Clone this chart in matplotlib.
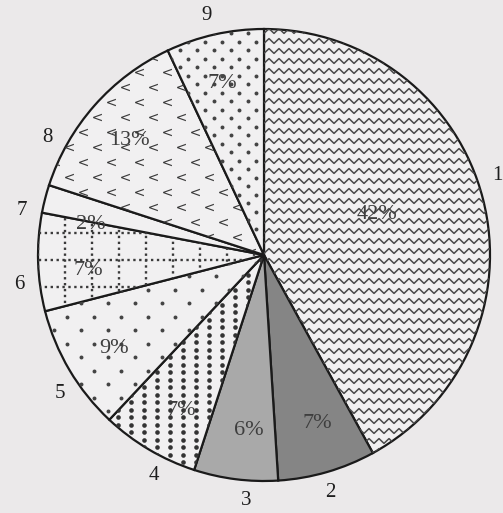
import numpy as np
import matplotlib
matplotlib.use("Agg")
import matplotlib.pyplot as plt
from matplotlib.collections import LineCollection

# --- data ---
labels = ["1", "2", "3", "4", "5", "6", "7", "8", "9"]
shares = [42, 7, 6, 7, 9, 7, 2, 13, 7]
pct_text = ["42%", "7%", "6%", "7%", "9%", "7%", "2%", "13%", "7%"]

BG = "#ebe9ea"
LIGHT = "#f1f0f1"
face = [LIGHT, "#858585", "#a9a9a9", LIGHT, LIGHT, LIGHT, LIGHT, LIGHT, LIGHT]

plt.rcParams["font.family"] = ["Liberation Serif", "DejaVu Serif"]

fig = plt.figure(figsize=(5.03, 5.13), dpi=100, facecolor=BG)
ax = fig.add_axes([0, 0, 1, 1])
ax.set_facecolor(BG)
R = 226.0  # radius in px
cx, cy = 264.0, 255.0

wedges, _ = ax.pie(shares, colors=face, startangle=90, counterclock=False,
                   radius=1.0, center=(0, 0), frame=True,
                   wedgeprops=dict(edgecolor="#1a1a1a", linewidth=1.6))
ax.set_xlim(-cx / R, (503 - cx) / R)
ax.set_ylim(-(513 - cy) / R, cy / R)
ax.axis("off")

px = 1.0 / R
INK = "#444444"


def lattice(step_x, step_y, stagger=True):
    pts = []
    ys = np.arange(-1.05, 1.05, step_y)
    for i, y in enumerate(ys):
        off = step_x / 2 if (stagger and i % 2) else 0.0
        for x in np.arange(-1.05 + off, 1.05, step_x):
            pts.append((x, y))
    return np.array(pts)


def add_dots(w, pts, size, marker="o", color=INK, lw=0):
    sc = ax.scatter(pts[:, 0], pts[:, 1], s=size, marker=marker, c=color,
                    linewidths=lw, zorder=3)
    sc.set_clip_path(w)


# slice 1: wavy lines
segs = []
for y in np.arange(-1.0, 1.05, 10 * px):
    xs = np.arange(0, 1.05, 5 * px)
    ys = y + np.where(np.arange(len(xs)) % 2, 2.4 * px, -2.4 * px)
    segs.append(np.column_stack([xs, ys]))
lc = LineCollection(segs, colors="#4a4a4a", linewidths=1.1, zorder=3)
ax.add_collection(lc)
lc.set_clip_path(wedges[0])

# slice 4: dense dots in columns
add_dots(wedges[3], lattice(13 * px, 7.5 * px, stagger=False), 11, color="#333333")
# slice 5: sparse dots
add_dots(wedges[4], lattice(27 * px, 13.5 * px), 8, color="#444444")

# slice 6: dotted grid
grid = []
for x in np.arange(-1.0, 0, 27 * px):
    grid.append([(x, -0.5), (x, 0.5)])
for y in np.arange(-0.5, 0.5, 27 * px):
    grid.append([(-1.05, y), (0, y)])
gl = LineCollection(grid, colors="#3a3a3a", linewidths=1.7,
                    linestyles=(0, (1, 1.5)), zorder=3)
ax.add_collection(gl)
gl.set_clip_path(wedges[5])

# slice 8: small chevrons
add_dots(wedges[7], lattice(28 * px, 15 * px), 40, marker=r"$<$", color="#3a3a3a")
# slice 9: dots
add_dots(wedges[8], lattice(17 * px, 8.5 * px), 8, color="#444444")

# outer category labels and inner percentages
label_nudge = [0, -0.5, 3, 4, 3.5, 5, 4, 13, 1]
pct_nudge = [5.5, 1.3, 2.2, 2.6, 1.4, 3.4, 4.4, 1, 1]
for i, (w, lab, txt) in enumerate(zip(wedges, labels, pct_text)):
    mid = (w.theta1 + w.theta2) / 2
    a = np.deg2rad(mid + label_nudge[i])
    lx, ly = 1.09 * np.cos(a), 1.09 * np.sin(a)
    if i == 0:
        # sits on the right edge of the scan
        ax.text((503 - cx) / R, ly + 0.08, lab, ha="right", va="center",
                fontsize=15, color="#1e1e1e")
    else:
        ax.text(lx, ly, lab, ha="center", va="center",
                fontsize=15, color="#1e1e1e")
    r = 0.53 if i == 0 else 0.78
    b = np.deg2rad(mid + pct_nudge[i])
    ax.text(r * np.cos(b), r * np.sin(b), txt, ha="center", va="center",
            fontsize=16, color="#3e3e3e", zorder=5)

fig.savefig("out.png", dpi=100, facecolor=BG)
